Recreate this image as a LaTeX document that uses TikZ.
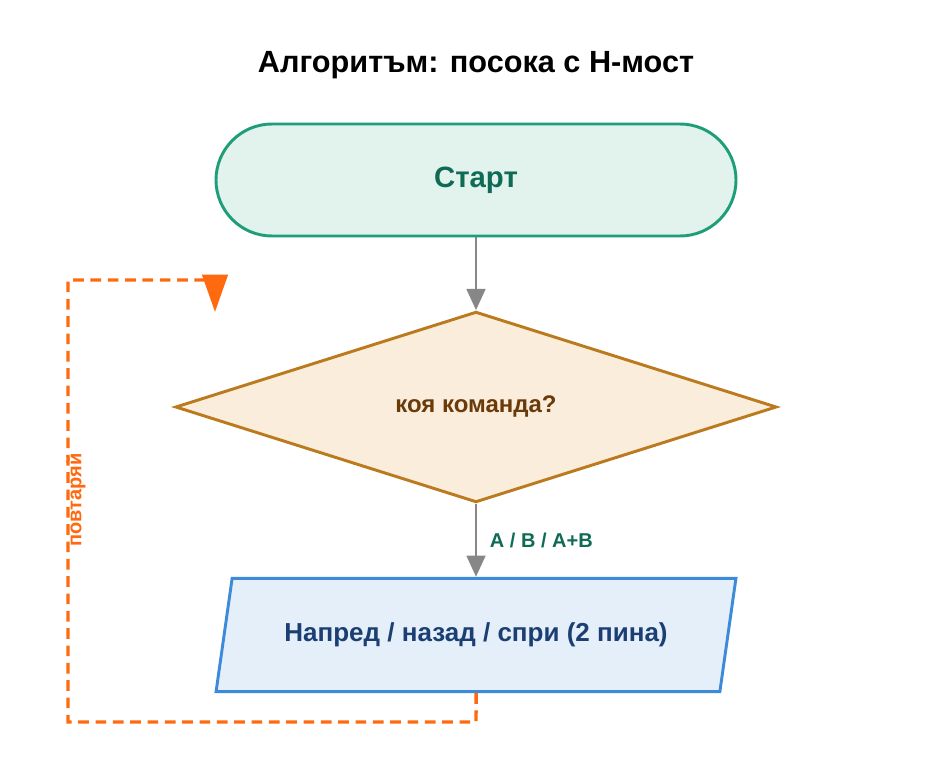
\documentclass[tikz,border=0pt]{standalone}
\usepackage{fontspec}
\setmainfont{Liberation Sans}
\usetikzlibrary{shapes.geometric,positioning,arrows.meta}
\definecolor{startfill}{HTML}{E1F3EC}
\definecolor{startdraw}{HTML}{1E9E78}
\definecolor{starttext}{HTML}{0F6B55}
\definecolor{askfill}{HTML}{FAEDDB}
\definecolor{askdraw}{HTML}{BC7A1E}
\definecolor{asktext}{HTML}{6B3A0B}
\definecolor{iofill}{HTML}{E4EFFA}
\definecolor{iodraw}{HTML}{3D8AD8}
\definecolor{iotext}{HTML}{1B3F73}
\definecolor{loopcol}{HTML}{FF6A10}
\definecolor{flowcol}{HTML}{878787}
\tikzset{
    start/.style={draw=startdraw,fill=startfill,line width=2.2pt,rounded corners=42pt,
        minimum width=390pt,minimum height=84pt,text=starttext,font=\bfseries\fontsize{22}{26}\selectfont},
    ask/.style={diamond,draw=askdraw,fill=askfill,line width=2.2pt,aspect=3.15,inner sep=0,
        minimum width=451pt,minimum height=143pt,text=asktext,font=\bfseries\fontsize{18}{22}\selectfont},
    io/.style={trapezium,trapezium left angle=68.7,trapezium right angle=111.3,trapezium stretches=true,
        draw=iodraw,fill=iofill,line width=2.2pt,minimum width=390pt,minimum height=85pt,
        text=iotext,font=\bfseries\fontsize{19.5}{23}\selectfont},
    flow/.style={draw=flowcol,line width=2.2pt,-{Triangle[length=16pt,width=14pt]}},
    again/.style={draw=loopcol,line width=2.6pt,dash pattern=on 8pt off 5pt,
        -{Triangle[length=28pt,width=19pt]}}
}
\begin{document}
\begin{tikzpicture}[x=0.75pt,y=-0.75pt]
    \useasboundingbox (0,0) rectangle (952,756);
    \node (title) at (476,65) {\bfseries\fontsize{23}{28}\selectfont Алгоритъм: посока с Н-мост};
    \node[start] (start) at (476,180) {Старт};
    \node[ask] (ask) at (476,407) {коя команда?};
    \node[io] (move) at (476,635) {Напред / назад / спри (2 пина)};
    \coordinate (c1) at (476,722);
    \coordinate (c2) at (68,722);
    \coordinate (c3) at (68,280);
    \coordinate (c4) at (215,280);
    \coordinate (c5) at (215,312);
    \draw[flow] (start) -- (ask);
    \draw[flow] (ask) -- node[right=6pt,text=starttext,font=\bfseries\fontsize{15}{18}\selectfont] {A / B / A+B} (move);
    \draw[again] (move.south) -- (c1) -- (c2) -- (c3) -- (c4) -- (c5);
    \node[rotate=90,text=loopcol,font=\bfseries\fontsize{15}{18}\selectfont] (label) at (76,500) {повтаряй};
\end{tikzpicture}
\end{document}
